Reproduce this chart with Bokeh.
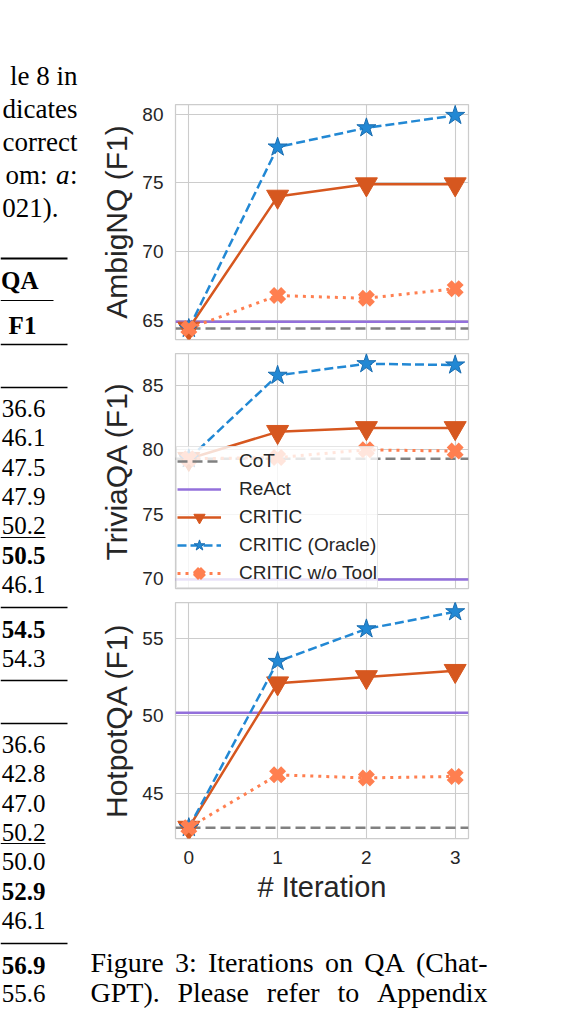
from bokeh.plotting import figure
from bokeh.models import Range1d, Legend, LegendItem
from bokeh.layouts import row, column
from bokeh.embed import file_html
from bokeh.resources import INLINE
from bokeh.core.properties import value

# ---------------- data ----------------
iterations = [0, 1, 2, 3]
dataset_names = ["AmbigNQ", "TriviaQA", "HotpotQA"]

cot_f1 = [64.4, 79.3, 42.8]
react_f1 = [64.9, 69.9, 50.2]

ambignq_critic = [64.4, 74.0, 74.9, 74.9]
ambignq_oracle = [64.4, 77.6, 79.0, 79.9]
ambignq_notool = [64.4, 66.8, 66.6, 67.3]

triviaqa_critic = [79.3, 81.4, 81.7, 81.7]
triviaqa_oracle = [79.3, 85.8, 86.7, 86.6]
triviaqa_notool = [79.3, 79.4, 80.0, 79.9]

hotpotqa_critic = [42.8, 52.1, 52.5, 52.9]
hotpotqa_oracle = [42.8, 53.5, 55.6, 56.7]
hotpotqa_notool = [42.8, 46.2, 46.0, 46.1]

critic_f1 = [ambignq_critic, triviaqa_critic, hotpotqa_critic]
oracle_f1 = [ambignq_oracle, triviaqa_oracle, hotpotqa_oracle]
notool_f1 = [ambignq_notool, triviaqa_notool, hotpotqa_notool]

y_ticks = [[65, 70, 75, 80], [70, 75, 80, 85], [45, 50, 55]]
y_limits = [(63.6, 80.7), (69.2, 87.5), (42.1, 57.3)]
x_limits = (-0.15, 3.15)

series_labels = ["CoT", "ReAct", "CRITIC", "CRITIC (Oracle)", "CRITIC w/o Tool"]
x_label = "# Iteration"

# surrounding page text (visible fragments)
para_lines = ["le 8 in", "dicates", "correct", "om:", "021)."]
table_header = ["QA", "F1"]
block1 = ["36.6", "46.1", "47.5", "47.9", "50.2", "50.5", "46.1"]
block2 = ["54.5", "54.3"]
block3 = ["36.6", "42.8", "47.0", "50.2", "50.0", "52.9", "46.1"]
block4 = ["56.9", "55.6"]
caption_lines = ["Figure 3: Iterations on QA (Chat-", "GPT). Please refer to Appendix"]

# ---------------- style ----------------
SANS = "Liberation Sans"
SERIF = "Liberation Serif"
TEXT = "#262626"
GRID = "#cccccc"
C_COT, C_REACT, C_CRITIC, C_ORACLE, C_NOTOOL = "#808080", "#9370DB", "#D6571F", "#2288D4", "#FF7F50"

PAGE_H = 1008
LEFT_W = 90
PANEL_W = 388
CAP_FIG_W = 483


def make_panel(k, height, top, bottom, show_x):
    p = figure(width=PANEL_W, height=height,
               x_range=Range1d(*x_limits), y_range=Range1d(*y_limits[k]),
               toolbar_location=None, output_backend="svg",
               min_border_left=85, min_border_right=10,
               min_border_top=top, min_border_bottom=bottom)
    p.background_fill_color = "white"
    p.border_fill_color = "white"
    p.outline_line_color = GRID
    p.outline_line_width = 1.25
    p.xgrid.grid_line_color = GRID
    p.ygrid.grid_line_color = GRID
    p.xgrid.grid_line_width = 1.1
    p.ygrid.grid_line_width = 1.1
    p.xaxis.ticker = iterations
    p.yaxis.ticker = y_ticks[k]
    p.axis.axis_line_color = None
    p.axis.major_tick_line_color = None
    p.axis.minor_tick_line_color = None
    p.axis.major_tick_out = 0
    p.axis.major_tick_in = 0
    p.axis.minor_tick_out = 0
    p.axis.major_label_text_font = SANS
    p.axis.major_label_text_font_size = "19px"
    p.axis.major_label_text_color = TEXT
    p.axis.axis_label_text_font = SANS
    p.axis.axis_label_text_font_size = "30px"
    p.axis.axis_label_text_font_style = "normal"
    p.axis.axis_label_text_color = TEXT
    p.yaxis.major_label_standoff = 12
    p.yaxis.axis_label_standoff = 6
    p.yaxis.axis_label = f"{dataset_names[k]} (F1)"
    if show_x:
        p.xaxis.axis_label = x_label
        p.xaxis.axis_label_text_font_size = "29px"
        p.xaxis.major_label_standoff = 12
        p.xaxis.axis_label_standoff = 4
    else:
        p.xaxis.visible = False

    r_cot = p.line(x=list(x_limits), y=[cot_f1[k]] * 2, line_color=C_COT,
                   line_width=2.5, line_dash="10 5")
    r_react = p.line(x=list(x_limits), y=[react_f1[k]] * 2, line_color=C_REACT,
                     line_width=2.5)
    r_cl = p.line(iterations, critic_f1[k], line_color=C_CRITIC, line_width=2.5)
    r_cm = p.scatter(iterations, critic_f1[k], marker="inverted_triangle", size=22,
                     fill_color=C_CRITIC, line_color=C_CRITIC)
    r_ol = p.line(iterations, oracle_f1[k], line_color=C_ORACLE, line_width=2.5,
                  line_dash="9 4")
    r_om = p.scatter(iterations, oracle_f1[k], marker="star", size=20,
                     fill_color=C_ORACLE, line_color="#1a6db0", line_width=1)
    r_nl = p.line(iterations, notool_f1[k], line_color=C_NOTOOL, line_width=3,
                  line_dash="3 5")
    r_nm = p.scatter(iterations, notool_f1[k], marker="x", size=17,
                     line_color=C_NOTOOL, line_width=7)
    groups = [[r_cot], [r_react], [r_cl, r_cm], [r_ol, r_om], [r_nl, r_nm]]
    return p, groups


p1, _ = make_panel(0, 346, 104, 7, False)
p2, groups2 = make_panel(1, 249, 7, 7, False)
p3, _ = make_panel(2, 313, 7, 70, True)

legend = Legend(items=[LegendItem(label=lab, renderers=g) for lab, g in zip(series_labels, groups2)],
                location=(1, 0), margin=0, padding=0, spacing=0,
                glyph_width=44, glyph_height=28, label_standoff=18, label_height=28,
                label_text_font=SANS, label_text_font_size="19px", label_text_color=TEXT,
                background_fill_color="white", background_fill_alpha=0.8,
                border_line_color=GRID, border_line_width=1)
p2.add_layout(legend)

# ---------------- left column of page text ----------------
left = figure(width=LEFT_W, height=PAGE_H, x_range=Range1d(0, LEFT_W), y_range=Range1d(PAGE_H, 0),
              x_axis_type=None, y_axis_type=None, toolbar_location=None,
              output_backend="svg", min_border=0)
left.frame_align = False
left.outline_line_color = None
left.background_fill_color = "white"
left.border_fill_color = "white"

serif_kw = dict(text_font=value(SERIF), text_color="black", text_baseline="middle")

BODY_FS = "27px"
para_y = [75, 108, 141, 174, 207]
para_r = [77, 77, 77, 47, 58]
left.text(x=para_r, y=para_y, text=para_lines, text_align="right",
          text_font_size=BODY_FS, **serif_kw)
left.text(x=[69], y=[para_y[3]], text=["a"], text_align="right",
          text_font_size=BODY_FS, text_font_style="italic", **serif_kw)
left.text(x=[77], y=[para_y[3]], text=[":"], text_align="right",
          text_font_size=BODY_FS, **serif_kw)

# header
left.text(x=[38], y=[280], text=[table_header[0]], text_align="right",
          text_font_size="25px", text_font_style="bold", **serif_kw)
left.text(x=[22], y=[325], text=[table_header[1]], text_align="center",
          text_font_size="25px", text_font_style="bold", **serif_kw)

NUM_R = 45


def put_rows(vals, centers, bold_idx):
    reg = [i for i in range(len(vals)) if i != bold_idx]
    left.text(x=[NUM_R] * len(reg), y=[centers[i] for i in reg],
              text=[vals[i] for i in reg], text_align="right", text_font_size="25px", **serif_kw)
    left.text(x=[NUM_R], y=[centers[bold_idx]], text=[vals[bold_idx]],
              text_align="right", text_font_size="25px", text_font_style="bold", **serif_kw)


put_rows(block1, [408 + 29.3 * i for i in range(7)], 5)
put_rows(block2, [629, 658], 0)
put_rows(block3, [744 + 29.3 * i for i in range(7)], 5)
put_rows(block4, [965, 993], 0)

rule_y = [258, 344, 387, 607, 680, 723, 943]
rule_w = [2.0, 1.3, 1.3, 1.3, 1.3, 1.3, 1.3]
left.segment(x0=[0] * 7, x1=[67] * 7, y0=rule_y, y1=rule_y,
             line_color="black", line_width=rule_w)
left.segment(x0=[0, 0, 0], x1=[53, 45, 45], y0=[300, 537, 843], y1=[300, 537, 843],
             line_color="black", line_width=1)

# ---------------- caption (justified) ----------------
TNR = {'F': 556, 'i': 278, 'g': 500, 'u': 500, 'r': 333, 'e': 444, '3': 500, ':': 278,
       'I': 333, 't': 278, 'a': 444, 'o': 500, 'n': 500, 's': 389, 'Q': 722, 'A': 722,
       '(': 333, 'C': 667, 'h': 500, '-': 333, 'G': 722, 'P': 556, 'T': 611, ')': 333,
       '.': 250, 'l': 278, 'f': 333, 'p': 500, 'd': 500, 'x': 500}
CAP_FS = 28
CAP_W = 397
CAP_TOP = 908
cap = figure(width=CAP_FIG_W, height=PAGE_H - CAP_TOP, x_range=Range1d(0, CAP_FIG_W),
             y_range=Range1d(PAGE_H - CAP_TOP, 0),
             x_axis_type=None, y_axis_type=None, toolbar_location=None,
             output_backend="svg", min_border=0)
cap.frame_align = False
cap.outline_line_color = None
cap.background_fill_color = "white"
cap.border_fill_color = "white"
cap_center = [962 - CAP_TOP, 992 - CAP_TOP]
for line, cy in zip(caption_lines, cap_center):
    words = line.split(" ")
    ws = [sum(TNR.get(ch, 500) for ch in w) * CAP_FS / 1000 for w in words]
    gap = (CAP_W - sum(ws)) / (len(words) - 1)
    xs, cx = [], 0.0
    for w in ws:
        xs.append(cx)
        cx += w + gap
    cap.text(x=xs, y=[cy] * len(words), text=words, text_align="left",
             text_font_size=f"{CAP_FS}px", **serif_kw)

layout = row(left, column(p1, p2, p3, cap))
open("out.html", "w").write(file_html(layout, INLINE))
